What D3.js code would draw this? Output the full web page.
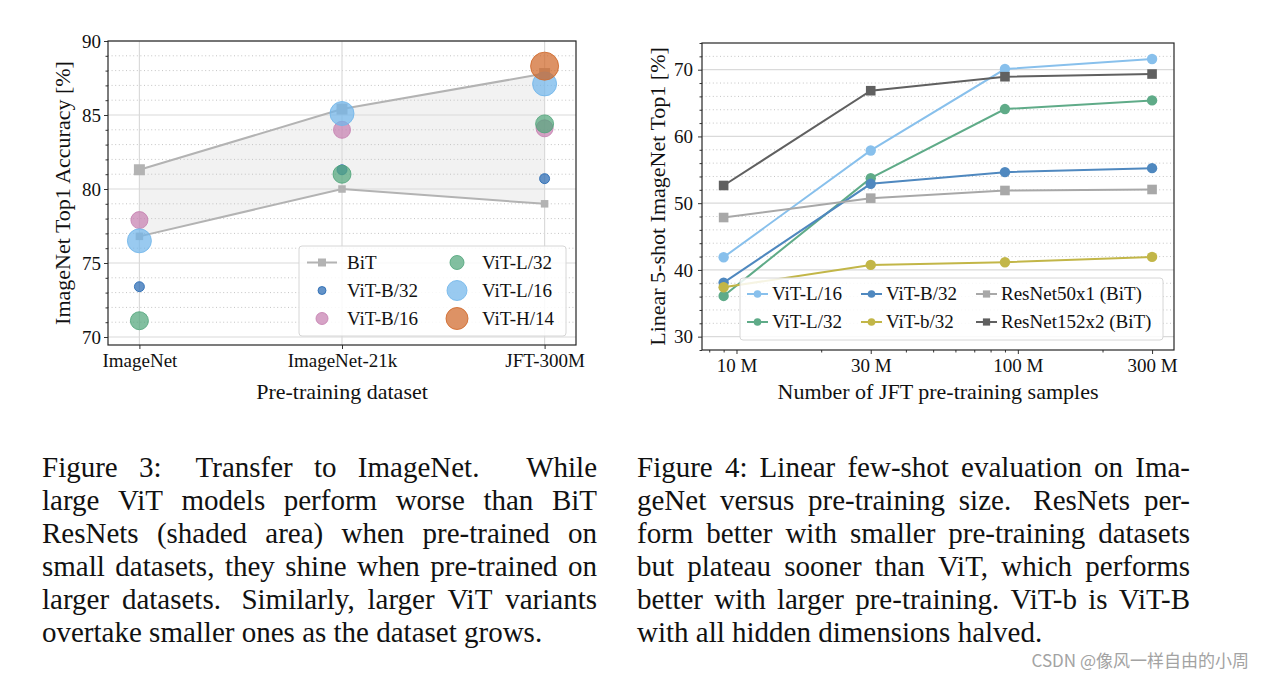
<!DOCTYPE html>
<html><head><meta charset="utf-8">
<script src="https://cdn.jsdelivr.net/npm/d3@7"></script>
<style>
body{margin:0;background:#fff}
svg{display:block}
text{font-family:"Liberation Serif","Times New Roman",serif;fill:#111}
</style>
</head><body>
<svg id="c" width="1262" height="677"></svg>
<script>
// ---------- DATA: Figure 3 ----------
const datasets = ["ImageNet", "ImageNet-21k", "JFT-300M"];
const bitUpper = [81.3, 85.4, 87.8];
const bitLower = [76.8, 80.0, 79.0];
const vitB32 = [73.4, 81.3, 80.7];
const vitB16 = [77.9, 84.0, 84.1];
const vitL32 = [71.1, 81.0, 84.4];
const vitL16 = [76.5, 85.1, 87.1];
const vitH14 = [null, null, 88.3];
const yTicksLeft = [70, 75, 80, 85, 90];

// ---------- DATA: Figure 4 ----------
const samplesM = [9, 30, 90, 300];
const xTicksRight = [10, 30, 100, 300];
const xTickLabelsRight = ["10 M", "30 M", "100 M", "300 M"];
const yTicksRight = [30, 40, 50, 60, 70];
const fsViTL16 = [41.9, 57.9, 70.1, 71.6];
const fsViTL32 = [36.1, 53.75, 64.1, 65.4];
const fsViTB32 = [38.1, 52.9, 54.65, 55.25];
const fsViTb32 = [37.4, 40.75, 41.15, 41.95];
const fsR50x1 = [47.85, 50.75, 51.9, 52.05];
const fsR152x2 = [52.65, 66.85, 68.95, 69.35];

// ---------- CAPTIONS ----------
const caption3 = [
  "Figure 3:  Transfer to ImageNet.   While",
  "large ViT models perform worse than BiT",
  "ResNets (shaded area) when pre-trained on",
  "small datasets, they shine when pre-trained on",
  "larger datasets.  Similarly, larger ViT variants",
  "overtake smaller ones as the dataset grows."
];
const caption4 = [
  "Figure 4: Linear few-shot evaluation on Ima-",
  "geNet versus pre-training size.  ResNets per-",
  "form better with smaller pre-training datasets",
  "but plateau sooner than ViT, which performs",
  "better with larger pre-training. ViT-b is ViT-B",
  "with all hidden dimensions halved."
];

const svg = d3.select("#c");
svg.append("rect").attr("width", 1262).attr("height", 677).attr("fill", "#fff");

const TICK_FS = 19, LABEL_FS = 22, LEG_FS = 19;
const gridMajor = "#dadada", gridMinor = "#c4c4c4";

// =============== LEFT CHART ===============
const L = {left: 108, right: 576, top: 41, bottom: 345};
const xL = d3.scaleLinear().domain([-0.155, 2.155]).range([L.left, L.right]);
const yL = d3.scaleLinear().domain([69.46, 90]).range([L.bottom, L.top]);
const gL = svg.append("g");

// shaded BiT area
const area = d3.area().x((d, i) => xL(i)).y0((d, i) => yL(bitLower[i])).y1(d => yL(d));
gL.append("path").datum(bitUpper).attr("d", area).attr("fill", "#f2f2f2");

// grid
const minorLeft = d3.range(70, 90).filter(v => v % 5 !== 0);
gL.selectAll(null).data(minorLeft).join("line")
  .attr("x1", L.left).attr("x2", L.right).attr("y1", d => yL(d)).attr("y2", d => yL(d))
  .attr("stroke", gridMinor).attr("stroke-width", 1).attr("stroke-dasharray", "1,2.6");
gL.selectAll(null).data(yTicksLeft).join("line")
  .attr("x1", L.left).attr("x2", L.right).attr("y1", d => yL(d)).attr("y2", d => yL(d))
  .attr("stroke", gridMajor).attr("stroke-width", 1.2);
gL.selectAll(null).data(datasets).join("line")
  .attr("x1", (d, i) => xL(i)).attr("x2", (d, i) => xL(i)).attr("y1", L.top).attr("y2", L.bottom)
  .attr("stroke", gridMajor).attr("stroke-width", 1.2);

// BiT lines + markers
const bitColor = "#b3b3b3";
const line = d3.line().x((d, i) => xL(i)).y(d => yL(d));
[[bitUpper, 11], [bitLower, 7.5]].forEach(([arr, s]) => {
  gL.append("path").datum(arr).attr("d", line).attr("fill", "none").attr("stroke", bitColor).attr("stroke-width", 2);
  gL.selectAll(null).data(arr).join("rect")
    .attr("x", (d, i) => xL(i) - s / 2).attr("y", d => yL(d) - s / 2)
    .attr("width", s).attr("height", s).attr("fill", bitColor);
});

// ViT circles
const vitSeries = [
  {name: "ViT-B/32", vals: vitB32, color: "#286ab3", d: 10, ld: 8},
  {name: "ViT-B/16", vals: vitB16, color: "#c680b0", d: 17, ld: 12},
  {name: "ViT-L/32", vals: vitL32, color: "#52a67b", d: 18, ld: 14},
  {name: "ViT-L/16", vals: vitL16, color: "#72b6ea", d: 24, ld: 20},
  {name: "ViT-H/14", vals: vitH14, color: "#d0682a", d: 28, ld: 22}
];
vitSeries.forEach(s => {
  gL.selectAll(null).data(s.vals.map((v, i) => ({v, i})).filter(p => p.v != null)).join("circle")
    .attr("cx", p => xL(p.i)).attr("cy", p => yL(p.v)).attr("r", s.d / 2)
    .attr("fill", s.color).attr("fill-opacity", 0.72)
    .attr("stroke", s.color).attr("stroke-opacity", 0.85).attr("stroke-width", 1);
});

// axes
const axL = gL.append("g").attr("transform", `translate(${L.left},0)`)
  .call(d3.axisLeft(yL).tickValues(yTicksLeft).tickSize(4).tickPadding(3));
gL.append("g").attr("transform", `translate(${L.left},0)`)
  .call(d3.axisLeft(yL).tickValues(minorLeft).tickSize(2.5).tickFormat(""));
const axLB = gL.append("g").attr("transform", `translate(0,${L.bottom})`)
  .call(d3.axisBottom(xL).tickValues([0, 1, 2]).tickFormat(i => datasets[i]).tickSize(4).tickPadding(5));
[axL, axLB].forEach(a => {
  a.select(".domain").remove();
  a.selectAll("text").attr("font-size", TICK_FS).attr("font-family", "Liberation Serif").attr("fill", "#111");
  a.selectAll("line").attr("stroke", "#333");
});
gL.selectAll("g.tick line").attr("stroke", "#333");
gL.append("rect").attr("x", L.left).attr("y", L.top).attr("width", L.right - L.left).attr("height", L.bottom - L.top)
  .attr("fill", "none").attr("stroke", "#262626").attr("stroke-width", 1.2);

// axis labels
svg.append("text").attr("x", (L.left + L.right) / 2).attr("y", 399).attr("text-anchor", "middle")
  .attr("font-size", LABEL_FS).text("Pre-training dataset");
svg.append("text").attr("transform", `translate(70,${(L.top + L.bottom) / 2}) rotate(-90)`).attr("text-anchor", "middle")
  .attr("font-size", LABEL_FS).text("ImageNet Top1 Accuracy [%]");

// legend left
const legL = svg.append("g");
legL.append("rect").attr("x", 299).attr("y", 246).attr("width", 267).attr("height", 90).attr("rx", 3)
  .attr("fill", "#fff").attr("fill-opacity", 0.85).attr("stroke", "#d6d6d6");
const legRowsY = [262.5, 290.5, 318.5];
legL.append("line").attr("x1", 307).attr("x2", 337).attr("y1", legRowsY[0]).attr("y2", legRowsY[0]).attr("stroke", bitColor).attr("stroke-width", 2);
legL.append("rect").attr("x", 322 - 4).attr("y", legRowsY[0] - 4).attr("width", 8).attr("height", 8).attr("fill", bitColor);
legL.append("text").attr("x", 347).attr("y", legRowsY[0]).attr("dy", "0.33em").attr("font-size", LEG_FS).text("BiT");
const legItems = [
  {s: vitSeries[0], col: 0, row: 1}, {s: vitSeries[1], col: 0, row: 2},
  {s: vitSeries[2], col: 1, row: 0}, {s: vitSeries[3], col: 1, row: 1}, {s: vitSeries[4], col: 1, row: 2}
];
const legColX = [[322, 347], [457, 482]];
legItems.forEach(it => {
  const y = legRowsY[it.row];
  legL.append("circle").attr("cx", legColX[it.col][0]).attr("cy", y).attr("r", it.s.ld / 2)
    .attr("fill", it.s.color).attr("fill-opacity", 0.72).attr("stroke", it.s.color).attr("stroke-opacity", 0.85);
  legL.append("text").attr("x", legColX[it.col][1]).attr("y", y).attr("dy", "0.33em").attr("font-size", LEG_FS).text(it.s.name);
});

// =============== RIGHT CHART ===============
const R = {left: 702, right: 1174, top: 43, bottom: 350};
const xR = d3.scaleLog().domain([7.54, 359]).range([R.left, R.right]);
const yR = d3.scaleLinear().domain([28, 74]).range([R.bottom, R.top]);
const gR = svg.append("g");
const minorRight = d3.range(28, 74.1, 2).filter(v => v % 10 !== 0);
gR.selectAll(null).data(minorRight.filter(v => v > 28 && v < 74)).join("line")
  .attr("x1", R.left).attr("x2", R.right).attr("y1", d => yR(d)).attr("y2", d => yR(d))
  .attr("stroke", gridMinor).attr("stroke-width", 1).attr("stroke-dasharray", "1,2.6");
gR.selectAll(null).data(yTicksRight).join("line")
  .attr("x1", R.left).attr("x2", R.right).attr("y1", d => yR(d)).attr("y2", d => yR(d))
  .attr("stroke", gridMajor).attr("stroke-width", 1.2);

const rSeries = [
  {name: "ViT-L/16", vals: fsViTL16, color: "#88c0ec", m: "c"},
  {name: "ViT-L/32", vals: fsViTL32, color: "#5fab88", m: "c"},
  {name: "ViT-B/32", vals: fsViTB32, color: "#4f88bf", m: "c"},
  {name: "ViT-b/32", vals: fsViTb32, color: "#c2b648", m: "c"},
  {name: "ResNet50x1 (BiT)", vals: fsR50x1, color: "#a8a8a8", m: "s"},
  {name: "ResNet152x2 (BiT)", vals: fsR152x2, color: "#606060", m: "s"}
];
const lineR = d3.line().x((d, i) => xR(samplesM[i])).y(d => yR(d));
rSeries.forEach(s => {
  gR.append("path").datum(s.vals).attr("d", lineR).attr("fill", "none").attr("stroke", s.color).attr("stroke-width", 2);
  if (s.m === "c") {
    gR.selectAll(null).data(s.vals).join("circle")
      .attr("cx", (d, i) => xR(samplesM[i])).attr("cy", d => yR(d)).attr("r", 5.2).attr("fill", s.color);
  } else {
    gR.selectAll(null).data(s.vals).join("rect")
      .attr("x", (d, i) => xR(samplesM[i]) - 4.8).attr("y", d => yR(d) - 4.8)
      .attr("width", 9.6).attr("height", 9.6).attr("fill", s.color);
  }
});

const axR = gR.append("g").attr("transform", `translate(${R.left},0)`)
  .call(d3.axisLeft(yR).tickValues(yTicksRight).tickSize(4).tickPadding(5));
gR.append("g").attr("transform", `translate(${R.left},0)`)
  .call(d3.axisLeft(yR).tickValues(minorRight).tickSize(2.5).tickFormat(""));
const axRB = gR.append("g").attr("transform", `translate(0,${R.bottom})`)
  .call(d3.axisBottom(xR).tickValues(xTicksRight).tickFormat((d, i) => xTickLabelsRight[i]).tickSize(4).tickPadding(5));
gR.append("g").attr("transform", `translate(0,${R.bottom})`)
  .call(d3.axisBottom(xR).tickValues([8, 9, 20, 40, 50, 60, 70, 80, 90, 200]).tickSize(2.5).tickFormat(""));
gR.selectAll(".domain").remove();
gL.selectAll(".domain").remove();
[axR, axRB].forEach(a => {
  a.selectAll("text").attr("font-size", TICK_FS).attr("font-family", "Liberation Serif").attr("fill", "#111");
});
gR.selectAll("g.tick line").attr("stroke", "#333");
gR.append("rect").attr("x", R.left).attr("y", R.top).attr("width", R.right - R.left).attr("height", R.bottom - R.top)
  .attr("fill", "none").attr("stroke", "#262626").attr("stroke-width", 1.2);

svg.append("text").attr("x", (R.left + R.right) / 2).attr("y", 399).attr("text-anchor", "middle")
  .attr("font-size", LABEL_FS).text("Number of JFT pre-training samples");
svg.append("text").attr("transform", `translate(665,${(R.top + R.bottom) / 2}) rotate(-90)`).attr("text-anchor", "middle")
  .attr("font-size", LABEL_FS).text("Linear 5-shot ImageNet Top1 [%]");

// legend right
const legR = svg.append("g");
legR.append("rect").attr("x", 740).attr("y", 278).attr("width", 423).attr("height", 62).attr("rx", 3)
  .attr("fill", "#fff").attr("fill-opacity", 0.85).attr("stroke", "#d6d6d6");
const legRPos = [
  {c: 0, r: 0}, {c: 0, r: 1}, {c: 1, r: 0}, {c: 1, r: 1}, {c: 2, r: 0}, {c: 2, r: 1}
];
const legRColX = [[747, 772], [861, 886], [976, 1001]];
const legRRowY = [294, 322];
rSeries.forEach((s, k) => {
  const p = legRPos[k], x0 = legRColX[p.c][0], y = legRRowY[p.r];
  legR.append("line").attr("x1", x0).attr("x2", x0 + 21).attr("y1", y).attr("y2", y).attr("stroke", s.color).attr("stroke-width", 2);
  if (s.m === "c") legR.append("circle").attr("cx", x0 + 10.5).attr("cy", y).attr("r", 3.8).attr("fill", s.color);
  else legR.append("rect").attr("x", x0 + 10.5 - 3.6).attr("y", y - 3.6).attr("width", 7.2).attr("height", 7.2).attr("fill", s.color);
  legR.append("text").attr("x", legRColX[p.c][1]).attr("y", y).attr("dy", "0.33em").attr("font-size", LEG_FS).text(s.name);
});

// =============== CAPTIONS ===============
function justify(lines, x0, x1, y0, lh, fs) {
  const g = svg.append("g");
  lines.forEach((ln, li) => {
    const parts = ln.split(/(\s+)/);
    const words = parts.filter((p, i) => i % 2 === 0);
    const gaps = parts.filter((p, i) => i % 2 === 1).map(sp => 1 + 0.6 * (sp.length - 1));
    const y = y0 + li * lh;
    const texts = words.map(w => g.append("text").attr("y", y).attr("font-size", fs).text(w));
    const widths = texts.map(t => t.node().getComputedTextLength());
    const total = d3.sum(widths);
    const last = li === lines.length - 1;
    const unit = last ? fs * 0.25 : (x1 - x0 - total) / d3.sum(gaps);
    let x = x0;
    texts.forEach((t, i) => {
      t.attr("x", x);
      x += widths[i] + (i < gaps.length ? gaps[i] * unit : 0);
    });
  });
}
justify(caption3, 42, 597, 476.5, 33, 29);
justify(caption4, 637, 1190, 476.5, 33, 29);

svg.append("text").attr("x", 1249).attr("y", 667).attr("text-anchor", "end")
  .style("font-family", "'Noto Sans CJK SC','Noto Sans',sans-serif")
  .attr("font-size", 17).style("fill", "#a3a3a3").text("CSDN @像风一样自由的小周");
</script>
</body></html>
